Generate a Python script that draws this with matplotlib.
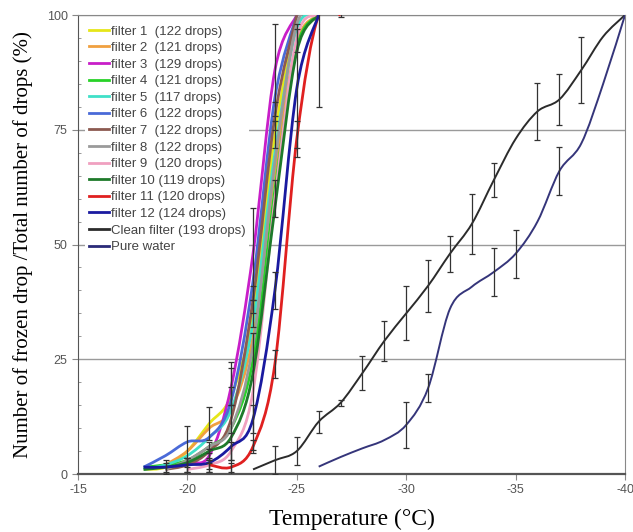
import numpy as np
import matplotlib
matplotlib.use("Agg")
from matplotlib import pyplot as plt
from matplotlib.path import Path
from matplotlib.patches import PathPatch
from matplotlib.lines import Line2D

nan = np.nan

# temperatures of the filter measurements (deg C)
filter_temps = [-18, -19, -20, -21, -22, -23, -24, -25, -26, -27]

# frozen fraction (%) of each filter, nan = no point
f1 = [1, 1.5, 5, 11, 17, 35, 74, 100, nan, nan]
f2 = [nan, 2, 5, 10, 14, 30, 66, 94, 100, nan]
f3 = [nan, 1, 2.5, 4, 19, 48, 88, 100, nan, nan]
f4 = [1.5, 2, 3, 6, 10, 25, 62, 93, 100, nan]
f5 = [1, 2, 4, 8, 14, 33, 70, 97, 100, nan]
f6 = [1.5, 4, 7, 8, 16, 42, 82, 100, nan, nan]
f7 = [nan, 1, 2, 5, 12, 38, 78, 100, nan, nan]
f8 = [nan, 1, 3, 6, 10, 28, 68, 98, 100, nan]
f9 = [nan, nan, 1, 2, 5, 18, 60, 95, 100, nan]
f10 = [1, 1.5, 2.5, 5, 8, 22, 58, 92, 100, nan]
f11 = [nan, nan, nan, 2, 1.5, 6, 24, 73, 100, 100]
f12 = [1.5, 1.5, 2, 2.5, 6, 12, 40, 84, 100, nan]

# error bars (%) of the filters, nan = no bar
f1_err = [nan, 1, 5.5, 3.5, 2, 3, 3, nan, nan, nan]
f3_err = [nan, nan, 1, 1.5, 4, 10, 10, nan, nan, nan]
f7_err = [nan, nan, 1.5, 2, 12.5, 3, 3, nan, nan, nan]
f9_err = [nan, nan, nan, 1.5, 2, 12.7, 4, 3, nan, nan]
f11_err = [nan, nan, nan, 1, 1, 1.5, 3, 4, nan, 0.5]
f12_err = [nan, 1.5, 1.5, 2, 3, 3, 4, 13, 20, nan]

filter_labels = ["filter 1  (122 drops)", "filter 2  (121 drops)", "filter 3  (129 drops)",
                 "filter 4  (121 drops)", "filter 5  (117 drops)", "filter 6  (122 drops)",
                 "filter 7  (122 drops)", "filter 8  (122 drops)", "filter 9  (120 drops)",
                 "filter 10 (119 drops)", "filter 11 (120 drops)", "filter 12 (124 drops)"]
filter_colors = ["#e6e619", "#f0a040", "#c81ec8", "#28d228", "#40e0c8", "#4a6ad8",
                 "#8c5a50", "#9a9a9a", "#f0a0c0", "#1e7a2a", "#e02020", "#1a1aa0"]

# clean filter and pure water
clean_temps = [-23, -24, -25, -26, -27, -28, -29, -30, -31, -32, -33, -34, -35, -36, -37, -38, -39, -40]
clean_vals = [1, 3, 5, 11.4, 15.5, 22, 29, 35, 41, 48, 54.5, 64, 73, 79, 81.6, 88, 95.3, 100]
clean_err = [nan, 3, 3, 2.4, 0.7, 3.7, 4.4, 5.9, 5.7, 3.9, 6.5, 3.7, nan, 6.2, 5.6, 7.2, nan, nan]

water_temps = [-26, -27, -28, -29, -30, -31, -32, -33, -34, -35, -36, -37, -38, -39, -40]
water_vals = [1.6, 3.7, 5.6, 7.4, 10.7, 18.7, 36, 40.8, 44, 48, 55, 66, 72, 85, 100]
water_err = [nan, nan, nan, nan, 5, 3, nan, nan, 5.2, 5.2, nan, 5.2, nan, nan, nan]


def smooth_path(xs, ys):
    """Excel風のスムージング線 (Catmull-Rom -> ベジェ)"""
    x = np.asarray(xs, float)
    y = np.asarray(ys, float)
    ok = ~np.isnan(y)
    x, y = x[ok], y[ok]
    pts = np.column_stack([x, y])
    n = len(pts)
    verts = [pts[0]]
    codes = [Path.MOVETO]
    for i in range(n - 1):
        p0 = pts[i - 1] if i > 0 else pts[i]
        p1 = pts[i]
        p2 = pts[i + 1]
        p3 = pts[i + 2] if i + 2 < n else pts[i + 1]
        c1 = p1 + (p2 - p0) / 6
        c2 = p2 - (p3 - p1) / 6
        verts += [c1, c2, p2]
        codes += [Path.CURVE4] * 3
    return Path(verts, codes)


def draw_err(ax, xs, ys, errs):
    x = np.asarray(xs, float)
    y = np.asarray(ys, float)
    e = np.asarray(errs, float)
    ok = ~np.isnan(e) & ~np.isnan(y)
    ax.errorbar(x[ok], y[ok], yerr=e[ok], fmt="none", ecolor="#333333",
                elinewidth=0.9, capsize=2.5, capthick=0.9, zorder=4)


plt.rcParams["font.family"] = ["Liberation Sans", "DejaVu Sans"]
plt.rcParams["axes.unicode_minus"] = False

fig = plt.figure(figsize=(6.33, 5.32), dpi=100)
ax = fig.add_axes([0.1232, 0.109, 0.8642, 0.8628])

filters = [f1, f2, f3, f4, f5, f6, f7, f8, f9, f10, f11, f12]
handles = []
for vals, col, lab in zip(filters, filter_colors, filter_labels):
    ax.add_patch(PathPatch(smooth_path(filter_temps, vals), fill=False,
                           edgecolor=col, lw=2.0, zorder=3))
    handles.append(Line2D([], [], color=col, lw=2.0, label=lab))

ax.add_patch(PathPatch(smooth_path(clean_temps, clean_vals), fill=False,
                       edgecolor="#2b2b2b", lw=1.4, zorder=3))
handles.append(Line2D([], [], color="#2b2b2b", lw=2.0, label="Clean filter (193 drops)"))
ax.add_patch(PathPatch(smooth_path(water_temps, water_vals), fill=False,
                       edgecolor="#35357a", lw=1.4, zorder=3))
handles.append(Line2D([], [], color="#2a2a78", lw=2.0, label="Pure water"))

draw_err(ax, filter_temps, f1, f1_err)
draw_err(ax, filter_temps, f3, f3_err)
draw_err(ax, filter_temps, f7, f7_err)
draw_err(ax, filter_temps, f9, f9_err)
draw_err(ax, filter_temps, f11, f11_err)
draw_err(ax, filter_temps, f12, f12_err)
draw_err(ax, clean_temps, clean_vals, clean_err)
draw_err(ax, water_temps, water_vals, water_err)

ax.set_xlim(-15, -40)
ax.set_ylim(0, 100)
ax.set_xticks([-15, -20, -25, -30, -35, -40])
ax.set_yticks([0, 25, 50, 75, 100])
ax.set_yticks(np.arange(0, 101, 5), minor=True)
ax.tick_params(axis="both", labelsize=9, labelcolor="#555555", color="#888888", length=4)
ax.tick_params(axis="y", which="minor", length=2, direction="in", color="#888888")
ax.yaxis.grid(True, color="#9a9a9a", lw=1.0)
ax.set_axisbelow(True)
for s in ["top", "right"]:
    ax.spines[s].set_color("#888888")
for s in ["left", "bottom"]:
    ax.spines[s].set_color("#555555")
ax.spines["bottom"].set_linewidth(1.6)

ax.set_xlabel("Temperature (\u00b0C)", family="Liberation Serif", fontsize=17, labelpad=9)
ax.set_ylabel("Number of frozen drop /Total number of drops (%)", family="Liberation Serif",
              fontsize=15, labelpad=10)

leg = ax.legend(handles=handles, loc="upper left", bbox_to_anchor=(0.008, 0.992),
                fontsize=9.5, frameon=True, facecolor="white", edgecolor="none",
                framealpha=1.0, handlelength=1.5, handletextpad=0.15, labelspacing=0.33,
                borderpad=0.3, borderaxespad=0.2)
for t in leg.get_texts():
    t.set_color("#444444")
leg.set_zorder(5)

plt.savefig("out.png", dpi=100)
